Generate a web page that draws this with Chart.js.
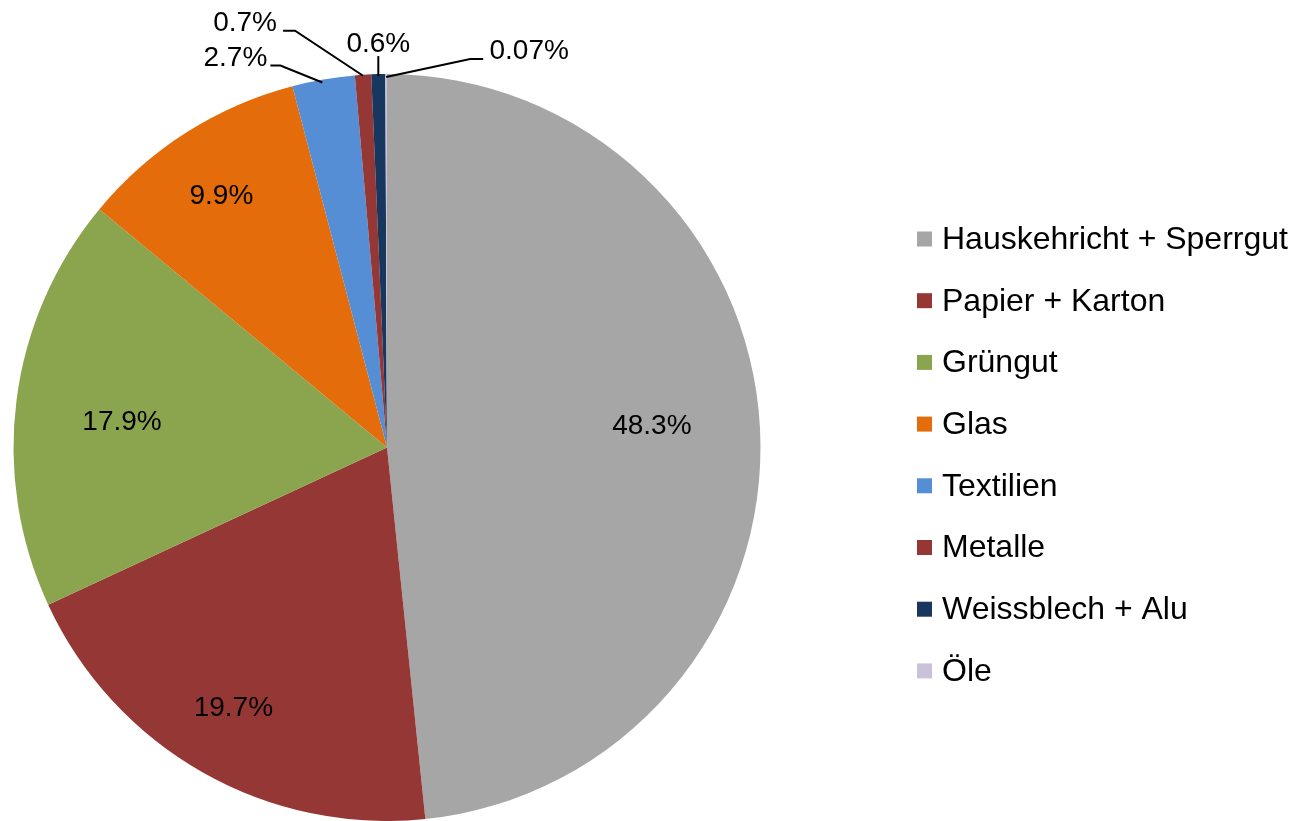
<!DOCTYPE html>
<html lang="de">
<head>
  <meta charset="UTF-8" />
  <title>Abfallzusammensetzung</title>
  <script src="https://cdn.jsdelivr.net/npm/chart.js"></script>
  <style>
    * { margin: 0; padding: 0; box-sizing: border-box; }
    body { background: #ffffff; width: 1297px; height: 821px; overflow: hidden; }
    canvas { display: block; }
  </style>
</head>
<body>
  <canvas id="pie" width="1297" height="821"></canvas>

  <script>
    const categories = ['Hauskehricht + Sperrgut', 'Papier + Karton', 'Grüngut', 'Glas',
                        'Textilien', 'Metalle', 'Weissblech + Alu', 'Öle'];
    const shares = [48.3, 19.7, 17.9, 9.9, 2.7, 0.7, 0.6, 0.07];
    const shareLabels = ['48.3%', '19.7%', '17.9%', '9.9%', '2.7%', '0.7%', '0.6%', '0.07%'];
    const colors = ['#a6a6a6', '#953735', '#8ba54e', '#e46c0a', '#558ed5', '#953735', '#17375e', '#ccc1da'];

    const LABEL_FONT = '28px "Liberation Sans", Arial, sans-serif';
    const LEGEND_FONT = '32px "Liberation Sans", Arial, sans-serif';

    // inside labels: fraction of radius + small nudge (best-fit look)
    const insideLabels = {
      0: { r: 0.71, nudge: [0, -8] },
      1: { r: 0.80, nudge: [-6, 1] },
      2: { r: 0.71, nudge: [-2, 9] },
      3: { r: 0.81, nudge: [-3, 4] }
    };
    // small slices get a callout with leader line (offsets from the arc edge)
    const callouts = {
      4: { text: [-88, -21], line: [[-1, 3], [-43, -14], [-53, -14]] },
      5: { text: [-118, -51], line: [[0, 1], [-68, -44], [-80, -44]] },
      6: { text: [0, -30], line: [[0, 2], [0, -18]] },
      7: { text: [143, -23], line: [[0, 3], [84, -15], [97, -15]] }
    };

    const sliceLabels = {
      id: 'sliceLabels',
      afterDatasetsDraw(chart) {
        const ctx = chart.ctx;
        const arcs = chart.getDatasetMeta(0).data;
        ctx.save();
        ctx.font = LABEL_FONT;
        ctx.fillStyle = '#000';
        ctx.textAlign = 'center';
        ctx.textBaseline = 'middle';
        arcs.forEach((arc, i) => {
          const p = arc.getProps(['x', 'y', 'startAngle', 'endAngle', 'outerRadius'], true);
          const mid = (p.startAngle + p.endAngle) / 2;
          const inside = insideLabels[i];
          if (inside) {
            const r = p.outerRadius * inside.r;
            ctx.fillText(shareLabels[i],
              p.x + Math.cos(mid) * r + inside.nudge[0],
              p.y + Math.sin(mid) * r + inside.nudge[1]);
            return;
          }
          const c = callouts[i];
          const ex = p.x + Math.cos(mid) * p.outerRadius;
          const ey = p.y + Math.sin(mid) * p.outerRadius;
          ctx.beginPath();
          c.line.forEach(([dx, dy], k) => {
            if (k === 0) ctx.moveTo(ex + dx, ey + dy);
            else ctx.lineTo(ex + dx, ey + dy);
          });
          ctx.strokeStyle = '#000';
          ctx.lineWidth = 2;
          ctx.stroke();
          ctx.fillText(shareLabels[i], ex + c.text[0], ey + c.text[1]);
        });
        ctx.restore();
      }
    };

    const sideLegend = {
      id: 'sideLegend',
      afterDraw(chart) {
        const ctx = chart.ctx;
        const x = 917, y0 = 239, step = 61.7, box = 15;
        ctx.save();
        ctx.font = LEGEND_FONT;
        ctx.textBaseline = 'middle';
        ctx.textAlign = 'left';
        chart.data.labels.forEach((label, i) => {
          const y = y0 + i * step;
          ctx.fillStyle = chart.data.datasets[0].backgroundColor[i];
          ctx.fillRect(x, y - box / 2, box, box);
          ctx.fillStyle = '#000';
          ctx.fillText(label, x + 25, y + 1);
        });
        ctx.restore();
      }
    };

    new Chart(document.getElementById('pie').getContext('2d'), {
      type: 'pie',
      data: {
        labels: categories,
        datasets: [{
          data: shares,
          backgroundColor: colors,
          borderWidth: 0
        }]
      },
      options: {
        responsive: false,
        animation: false,
        layout: { padding: { left: 13, top: 74, right: 536, bottom: 0 } },
        plugins: {
          legend: { display: false },
          tooltip: { enabled: false }
        }
      },
      plugins: [sliceLabels, sideLegend]
    });
  </script>
</body>
</html>
